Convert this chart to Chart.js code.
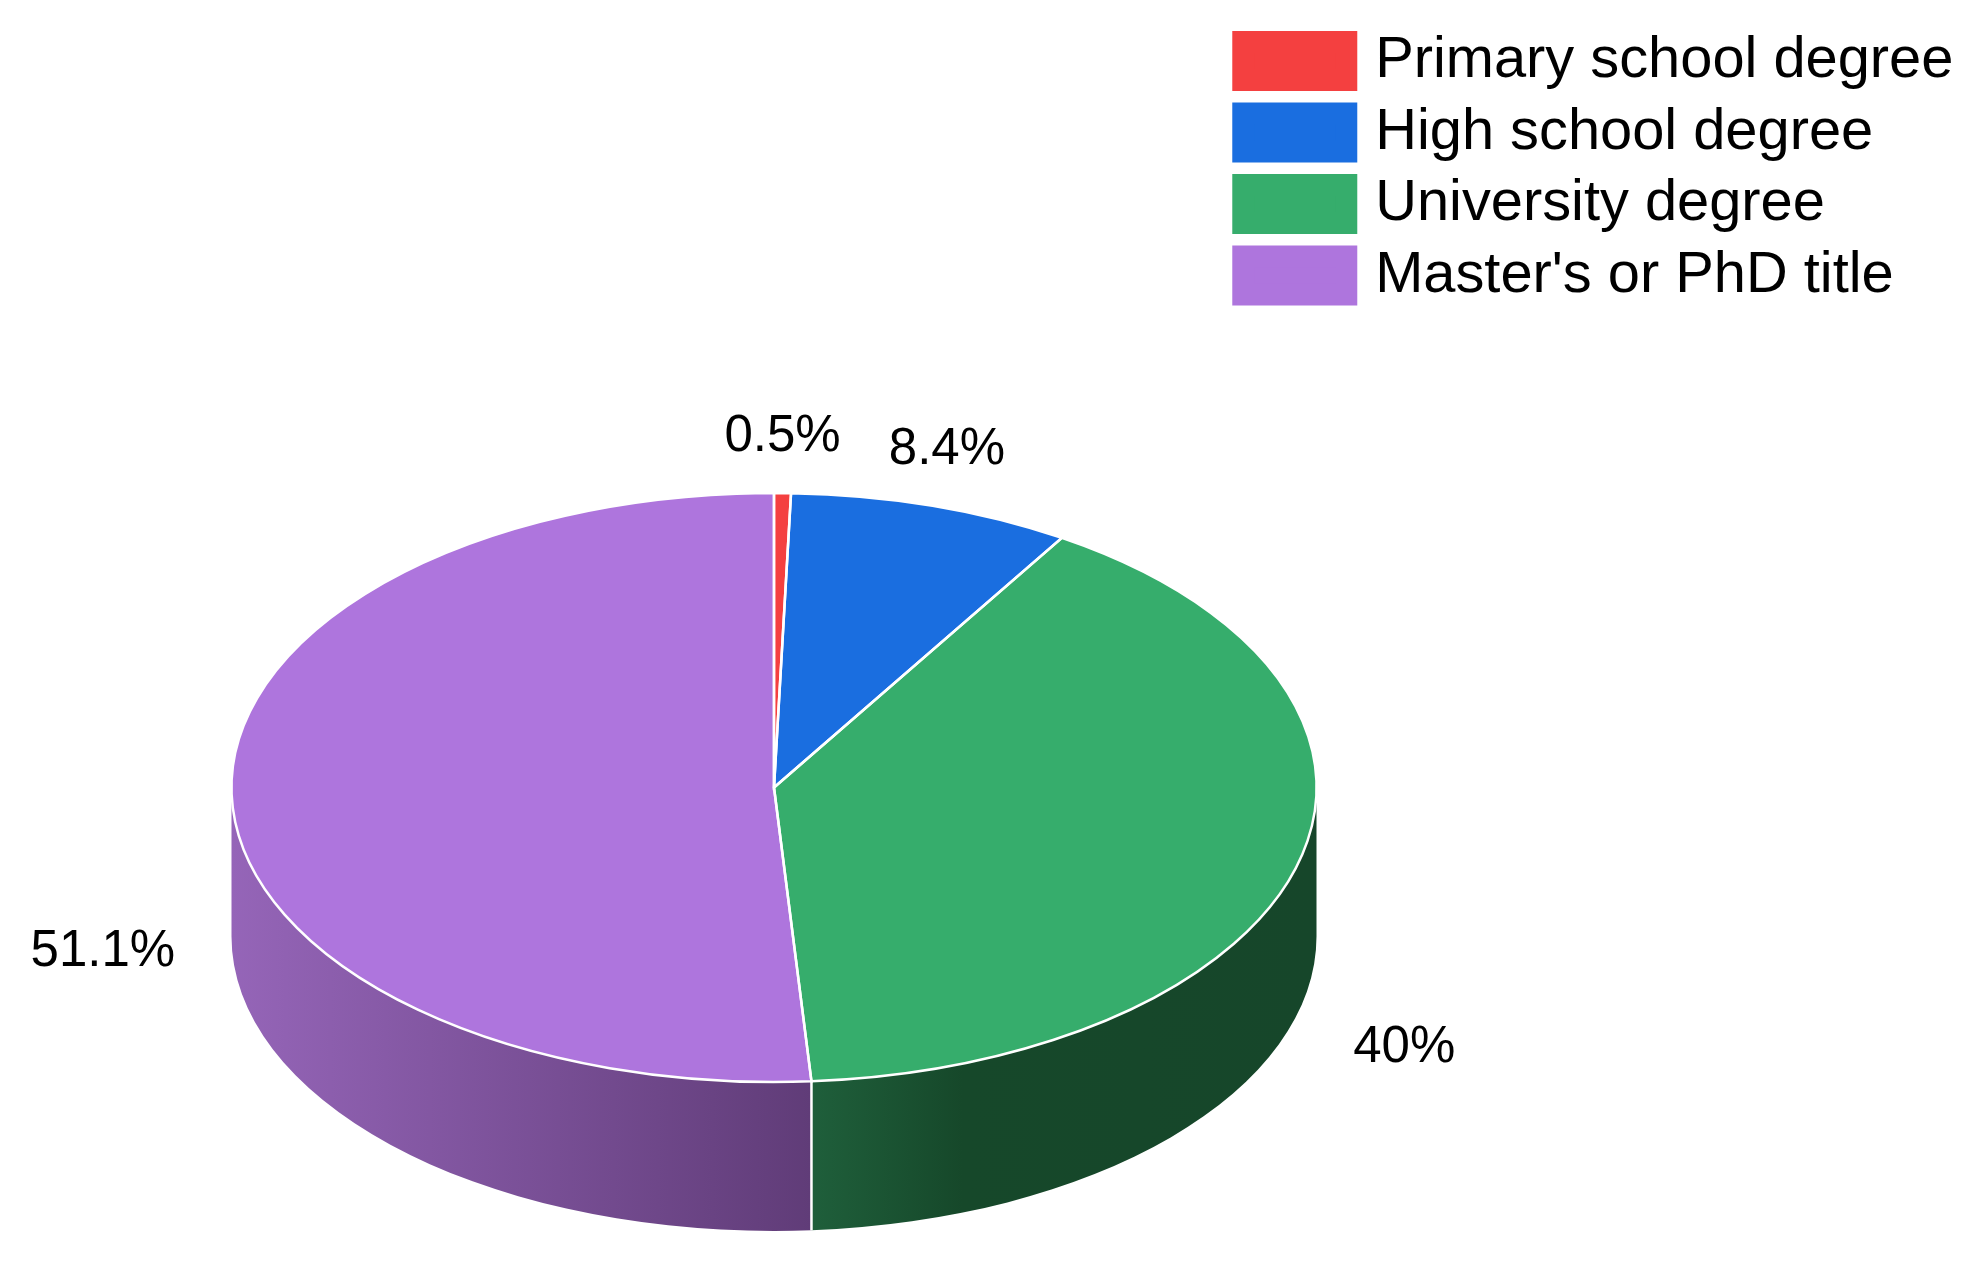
<!DOCTYPE html>
<html>
<head>
<meta charset="utf-8">
<title>Degree pie</title>
<script src="https://cdn.jsdelivr.net/npm/chart.js@4"></script>
<style>
  html, body { margin: 0; padding: 0; background: #fff; }
  canvas { display: block; }
</style>
</head>
<body>
<canvas id="myChart" width="1977" height="1264"></canvas>
<script>
const categories = ['Primary school degree', 'High school degree', 'University degree', "Master's or PhD title"];
const shares = [0.5, 8.4, 40, 51.1];
const shareLabels = ['0.5%', '8.4%', '40%', '51.1%'];
const topColors = ['#f44040', '#1a6ee0', '#36ad6c', '#ae75dd'];
// side wall shades, left to right
const wallColors = [
  [[0, '#a82a2a'], [1, '#a82a2a']],
  [[0, '#124c9c'], [1, '#124c9c']],
  [[0, '#1f5f3b'], [0.3, '#16482a'], [1, '#16462a']],
  [[0, '#9565b8'], [1, '#603c78']],
];

// the tilted disc
const disc = { x: 774, y: 787.5, rx: 542.5, ry: 294.5, depth: 149 };
// how far each value label sits from the rim at the middle of its slice
const labelNudges = [[0, -56.5], [15, -55.5], [104, 188.5], [-129, 154]];

const tiltedPie = {
  id: 'tiltedPie',
  beforeDatasetsDraw(chart) {
    const ctx = chart.ctx;
    const arcs = chart.getDatasetMeta(0).data;
    arcs.forEach((arc, i) => {
      const s = Math.max(arc.startAngle, 0);
      const e = Math.min(arc.endAngle, Math.PI);
      if (e <= s) return;
      const x0 = disc.x + disc.rx * Math.cos(e);
      const x1 = disc.x + disc.rx * Math.cos(s);
      const grad = ctx.createLinearGradient(x0, 0, x1, 0);
      wallColors[i].forEach(stop => grad.addColorStop(stop[0], stop[1]));
      ctx.beginPath();
      ctx.ellipse(disc.x, disc.y, disc.rx, disc.ry, 0, s, e);
      ctx.ellipse(disc.x, disc.y + disc.depth, disc.rx, disc.ry, 0, e, s, true);
      ctx.closePath();
      ctx.fillStyle = grad;
      ctx.fill();
    });
    // squash the flat pie into an ellipse
    const first = arcs[0];
    ctx.save();
    ctx.translate(disc.x, disc.y);
    ctx.scale(disc.rx / first.outerRadius, disc.ry / first.outerRadius);
    ctx.translate(-first.x, -first.y);
  },
  afterDatasetsDraw(chart) {
    const ctx = chart.ctx;
    ctx.restore();
    const arcs = chart.getDatasetMeta(0).data;

    // white slice edges, drawn unsquashed so the width stays even
    ctx.strokeStyle = '#fff';
    ctx.lineWidth = 2.5;
    arcs.forEach(arc => {
      ctx.beginPath();
      ctx.moveTo(disc.x, disc.y);
      ctx.ellipse(disc.x, disc.y, disc.rx, disc.ry, 0, arc.startAngle, arc.endAngle);
      ctx.closePath();
      ctx.stroke();
      const a = arc.startAngle;
      if (Math.sin(a) > 0) {
        const x = disc.x + disc.rx * Math.cos(a);
        const y = disc.y + disc.ry * Math.sin(a);
        ctx.beginPath();
        ctx.moveTo(x, y);
        ctx.lineTo(x, y + disc.depth);
        ctx.stroke();
      }
    });

    ctx.fillStyle = '#000';
    ctx.font = '51px "Liberation Sans"';
    ctx.textAlign = 'center';
    ctx.textBaseline = 'middle';
    arcs.forEach((arc, i) => {
      const mid = (arc.startAngle + arc.endAngle) / 2;
      const x = disc.x + disc.rx * Math.cos(mid) + labelNudges[i][0];
      const y = disc.y + disc.ry * Math.sin(mid) + labelNudges[i][1];
      ctx.fillText(shareLabels[i], x, y);
    });
  }
};

const ctx = document.getElementById('myChart').getContext('2d');
const myChart = new Chart(ctx, {
  type: 'pie',
  data: {
    labels: categories,
    datasets: [{
      data: shares,
      backgroundColor: topColors,
      borderWidth: 0,
      radius: 500,
    }]
  },
  options: {
    responsive: false,
    animation: false,
    events: [],
    layout: { padding: { top: 18.5, right: 13.6 } },
    plugins: {
      tooltip: { enabled: false },
      legend: {
        position: 'right',
        align: 'start',
        labels: {
          // box is 125x60 once the same-colour stroke is added; gets the text closer
          boxWidth: 103,
          boxHeight: 38,
          padding: 13.7,
          color: '#000',
          font: { family: '"Liberation Sans"', size: 57.8 },
          generateLabels(chart) {
            const items = Chart.overrides.pie.plugins.legend.labels.generateLabels(chart);
            items.forEach((item, i) => {
              item.strokeStyle = topColors[i];
              item.lineWidth = 22;
            });
            return items;
          }
        }
      }
    }
  },
  plugins: [tiltedPie]
});
</script>
</body>
</html>
